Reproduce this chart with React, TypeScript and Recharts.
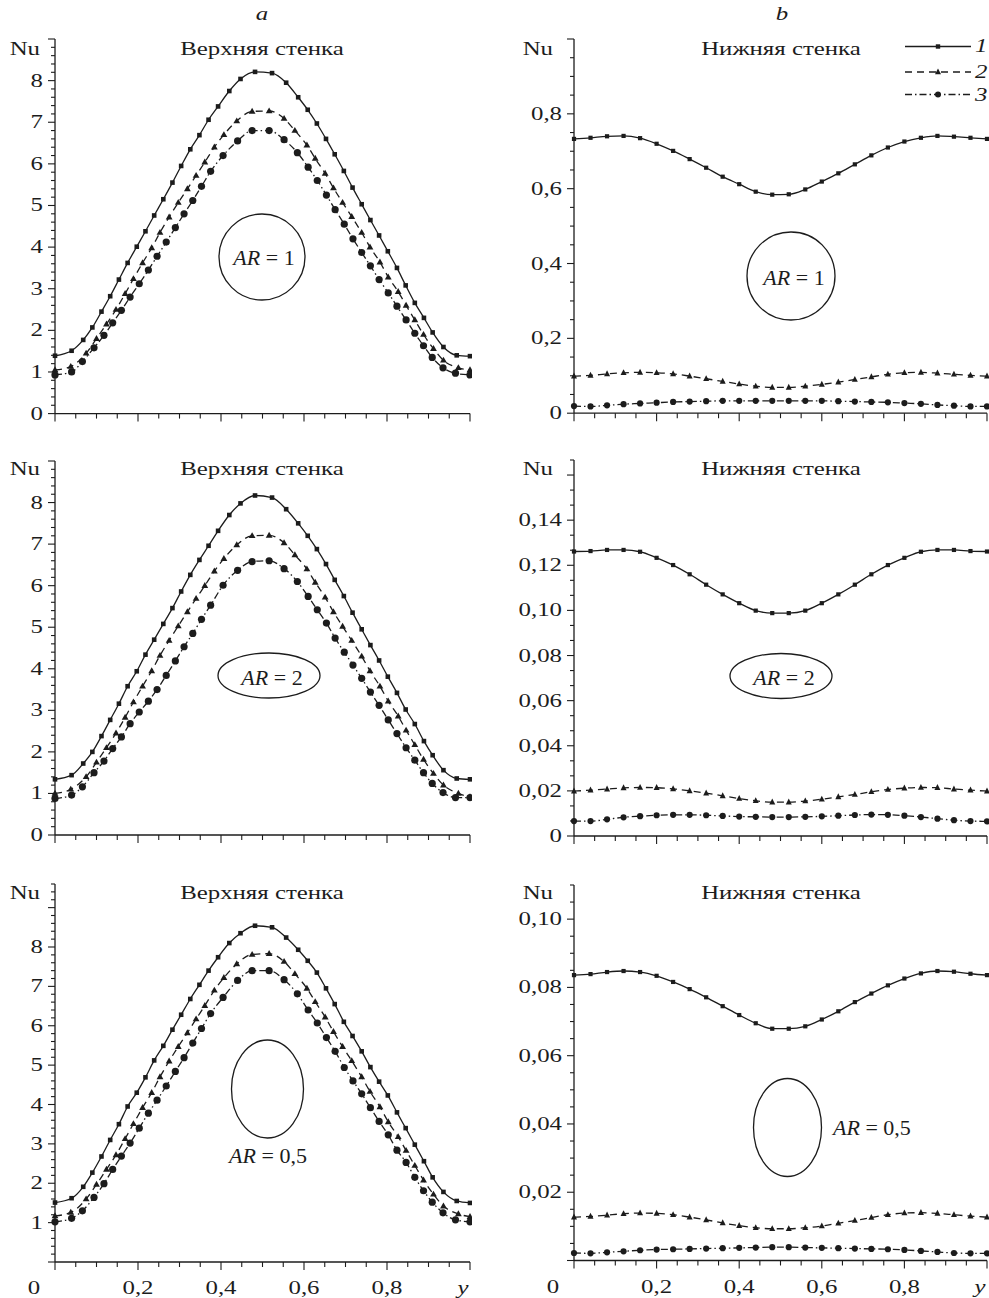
import React from "react";
import { LineChart, Line, XAxis, YAxis } from "recharts";

const FONT = '"Liberation Serif", "Times New Roman", serif';
const INK = "#1c1c1c";
const SX = 1.38; // the figure's lettering is wide

// marker positions, column a (upper wall)
const xTop1 = [0, 0.04, 0.068, 0.09, 0.112, 0.133, 0.154, 0.175, 0.197, 0.218, 0.239, 0.261, 0.283, 0.304, 0.326, 0.348, 0.37, 0.393, 0.42, 0.447, 0.482, 0.523, 0.557, 0.586, 0.609, 0.631, 0.653, 0.674, 0.696, 0.717, 0.739, 0.76, 0.781, 0.802, 0.824, 0.845, 0.867, 0.889, 0.91, 0.936, 0.968, 1.0];
const xTop2 = [0, 0.038, 0.075, 0.1, 0.124, 0.147, 0.169, 0.189, 0.211, 0.233, 0.253, 0.275, 0.297, 0.319, 0.34, 0.361, 0.384, 0.407, 0.438, 0.475, 0.516, 0.552, 0.578, 0.607, 0.627, 0.651, 0.671, 0.693, 0.715, 0.739, 0.759, 0.783, 0.803, 0.827, 0.846, 0.867, 0.888, 0.912, 0.936, 0.972, 1.0];
const xTop3 = [0, 0.04, 0.066, 0.094, 0.118, 0.139, 0.16, 0.181, 0.203, 0.225, 0.246, 0.268, 0.29, 0.311, 0.332, 0.353, 0.375, 0.405, 0.44, 0.475, 0.516, 0.552, 0.584, 0.61, 0.632, 0.654, 0.675, 0.697, 0.718, 0.739, 0.76, 0.781, 0.803, 0.824, 0.846, 0.867, 0.888, 0.909, 0.935, 0.965, 1.0];
// column b (lower wall)
const xBot = [0, 0.04, 0.08, 0.12, 0.16, 0.2, 0.24, 0.28, 0.32, 0.36, 0.4, 0.44, 0.48, 0.52, 0.56, 0.6, 0.64, 0.68, 0.72, 0.76, 0.8, 0.84, 0.88, 0.92, 0.96, 1.0];

// Nu, upper wall
const upAR1s1 = [1.39, 1.51, 1.77, 2.07, 2.45, 2.82, 3.22, 3.62, 4.01, 4.38, 4.76, 5.15, 5.55, 5.95, 6.35, 6.69, 7.06, 7.38, 7.75, 8.04, 8.21, 8.18, 7.95, 7.6, 7.3, 6.97, 6.6, 6.23, 5.83, 5.43, 5.03, 4.65, 4.28, 3.9, 3.5, 3.08, 2.66, 2.3, 1.95, 1.6, 1.4, 1.38];
const upAR1s2 = [1.05, 1.13, 1.45, 1.8, 2.15, 2.5, 2.88, 3.24, 3.62, 3.98, 4.35, 4.72, 5.07, 5.4, 5.72, 6.04, 6.4, 6.7, 7.03, 7.26, 7.27, 7.09, 6.8, 6.45, 6.13, 5.77, 5.42, 5.07, 4.73, 4.35, 4.0, 3.64, 3.28, 2.93, 2.6, 2.25, 1.9, 1.56, 1.28, 1.1, 1.05];
const upAR1s3 = [0.93, 1.0, 1.25, 1.58, 1.88, 2.18, 2.48, 2.8, 3.12, 3.45, 3.78, 4.12, 4.47, 4.8, 5.12, 5.46, 5.82, 6.2, 6.55, 6.8, 6.8, 6.58, 6.27, 5.92, 5.6, 5.25, 4.9, 4.55, 4.2, 3.87, 3.55, 3.22, 2.9, 2.58, 2.25, 1.93, 1.63, 1.35, 1.1, 0.97, 0.93];

const upAR2s1 = [1.34, 1.44, 1.72, 2.0, 2.38, 2.77, 3.16, 3.58, 3.94, 4.34, 4.7, 5.08, 5.46, 5.86, 6.26, 6.62, 6.96, 7.32, 7.7, 7.98, 8.17, 8.12, 7.84, 7.5, 7.2, 6.88, 6.52, 6.14, 5.75, 5.35, 4.95, 4.57, 4.2, 3.81, 3.42, 3.02, 2.67, 2.26, 1.92, 1.56, 1.36, 1.34];
const upAR2s2 = [1.0, 1.1, 1.4, 1.75, 2.1, 2.45, 2.83, 3.2, 3.58, 3.95, 4.32, 4.68, 5.03, 5.37, 5.69, 6.0, 6.35, 6.65, 6.98, 7.2, 7.21, 7.03, 6.74, 6.4, 6.08, 5.72, 5.37, 5.02, 4.68, 4.3, 3.95, 3.58, 3.22, 2.86, 2.52, 2.17, 1.82, 1.48, 1.2, 1.0, 0.92];
const upAR2s3 = [0.88, 0.96, 1.16, 1.5, 1.78, 2.08, 2.36, 2.68, 2.96, 3.22, 3.5, 3.84, 4.19, 4.53, 4.85, 5.19, 5.53, 6.01, 6.37, 6.58, 6.6, 6.41, 6.1, 5.74, 5.42, 5.1, 4.74, 4.4, 4.09, 3.77, 3.44, 3.12, 2.77, 2.44, 2.1, 1.8, 1.5, 1.24, 1.02, 0.9, 0.9];

const upAR05s1 = [1.51, 1.62, 1.91, 2.27, 2.68, 3.1, 3.5, 3.95, 4.3, 4.69, 5.12, 5.49, 5.9, 6.28, 6.68, 7.04, 7.4, 7.74, 8.1, 8.35, 8.54, 8.5, 8.24, 7.93, 7.65, 7.35, 6.95, 6.55, 6.1, 5.74, 5.35, 4.95, 4.58, 4.23, 3.8, 3.4, 2.98, 2.56, 2.15, 1.78, 1.55, 1.5];
const upAR05s2 = [1.17, 1.26, 1.6, 1.97, 2.35, 2.72, 3.13, 3.51, 3.92, 4.3, 4.7, 5.1, 5.47, 5.82, 6.17, 6.51, 6.9, 7.22, 7.57, 7.81, 7.83, 7.63, 7.32, 6.95, 6.61, 6.22, 5.85, 5.47, 5.11, 4.7, 4.33, 3.94, 3.56, 3.18, 2.83, 2.45, 2.08, 1.72, 1.42, 1.22, 1.15];
const upAR05s3 = [1.02, 1.11, 1.3, 1.64, 1.99, 2.35, 2.69, 3.02, 3.4, 3.78, 4.11, 4.47, 4.84, 5.19, 5.56, 5.93, 6.31, 6.72, 7.15, 7.4, 7.4, 7.17, 6.81, 6.4, 6.07, 5.7, 5.35, 4.94, 4.6, 4.27, 3.92, 3.57, 3.23, 2.84, 2.53, 2.15, 1.81, 1.52, 1.25, 1.07, 1.02];

// Nu, lower wall
const lowAR1s1 = [0.733, 0.736, 0.74, 0.741, 0.735, 0.72, 0.701, 0.679, 0.656, 0.632, 0.612, 0.592, 0.584, 0.585, 0.598, 0.619, 0.641, 0.665, 0.689, 0.71, 0.726, 0.736, 0.741, 0.739, 0.736, 0.733];
const lowAR1s2 = [0.099, 0.101, 0.105, 0.108, 0.109, 0.108, 0.105, 0.099, 0.092, 0.085, 0.078, 0.072, 0.069, 0.069, 0.072, 0.077, 0.083, 0.09, 0.097, 0.104, 0.108, 0.109, 0.107, 0.104, 0.101, 0.099];
const lowAR1s3 = [0.019, 0.018, 0.021, 0.024, 0.026, 0.028, 0.03, 0.031, 0.032, 0.033, 0.033, 0.033, 0.033, 0.033, 0.033, 0.033, 0.032, 0.031, 0.03, 0.029, 0.027, 0.025, 0.022, 0.02, 0.018, 0.018];

const lowAR2s1 = [0.1261, 0.1263, 0.1268, 0.1268, 0.126, 0.1233, 0.1201, 0.116, 0.1114, 0.1071, 0.1032, 0.0999, 0.0988, 0.0988, 0.0999, 0.1032, 0.1071, 0.1114, 0.116, 0.1201, 0.1233, 0.126, 0.1268, 0.1268, 0.1263, 0.1261];
const lowAR2s2 = [0.0199, 0.0203, 0.0208, 0.0213, 0.0215, 0.0214, 0.0209, 0.02, 0.019, 0.0178, 0.0166, 0.0156, 0.015, 0.015, 0.0155, 0.0163, 0.0173, 0.0184, 0.0196, 0.0206, 0.0212, 0.0215, 0.0214, 0.0208, 0.0203, 0.0199];
const lowAR2s3 = [0.0066, 0.0066, 0.0074, 0.0083, 0.0088, 0.0092, 0.0094, 0.0094, 0.0092, 0.0089, 0.0086, 0.0085, 0.0084, 0.0084, 0.0085, 0.0087, 0.009, 0.0093, 0.0095, 0.0094, 0.009, 0.0084, 0.0077, 0.007, 0.0066, 0.0065];

const lowAR05s1 = [0.0836, 0.0839, 0.0845, 0.0848, 0.0845, 0.0834, 0.0816, 0.0795, 0.0771, 0.0745, 0.0719, 0.0695, 0.0679, 0.0679, 0.0686, 0.0706, 0.073, 0.0757, 0.0782, 0.0806, 0.0826, 0.0841, 0.0848, 0.0846, 0.084, 0.0836];
const lowAR05s2 = [0.0127, 0.0129, 0.0133, 0.0137, 0.0139, 0.0138, 0.0134, 0.0127, 0.0119, 0.011, 0.0102, 0.0096, 0.0093, 0.0093, 0.0096, 0.0101, 0.0109, 0.0117, 0.0126, 0.0134, 0.0139, 0.014, 0.0138, 0.0134, 0.013, 0.0127];
const lowAR05s3 = [0.0022, 0.0021, 0.0024, 0.0027, 0.003, 0.0032, 0.0033, 0.0034, 0.0035, 0.0036, 0.0037, 0.0038, 0.0039, 0.0039, 0.0038, 0.0037, 0.0036, 0.0035, 0.0034, 0.0033, 0.0031, 0.0028, 0.0025, 0.0022, 0.0021, 0.0021];

const xTickLabels = ["0", "0,2", "0,4", "0,6", "0,8", "y"];

const pts = (xs: number[], ys: number[]) => xs.map((x, i) => ({ x, y: ys[i] }));

const steps = (step: number, max: number) => {
  const n = Math.round(max / step);
  const out: number[] = [];
  for (let i = 0; i <= n; i++) out.push(+(i * step).toFixed(7));
  return out;
};

const xTicks = steps(0.05, 1);
const DASH = [undefined, "7 5", "7 3 1.5 3"];
const YW = 55;
const MT = 12;
const XH = 45;

function marker(kind: number, big: boolean) {
  return (p: any) => {
    const { cx, cy, index } = p;
    if (cx == null || cy == null) return <g key={index} />;
    if (kind === 0) {
      const s = big ? 4.6 : 4.2;
      return <rect key={index} x={cx - s / 2} y={cy - s / 2} width={s} height={s} fill={INK} />;
    }
    if (kind === 1) {
      const w = big ? 3.4 : 3;
      return <polygon key={index} points={`${cx},${cy - 3.6} ${cx - w},${cy + 2.3} ${cx + w},${cy + 2.3}`} fill={INK} />;
    }
    return <circle key={index} cx={cx} cy={cy} r={big ? 3.6 : 3.1} fill={INK} />;
  };
}

interface PanelProps {
  left: number;
  top: number;
  w: number;
  h: number;
  yMax: number;
  yStep: number;
  yEvery: number;
  yDec: number;
  yLabelMax: number;
  yZero: boolean;
  xLabels: boolean;
  big: boolean;
  series: { xs: number[]; ys: number[] }[];
}

function Panel(p: PanelProps) {
  const yTicks = steps(p.yStep, p.yMax);
  const mr = 2;
  const width = YW + p.w + mr;
  const height = MT + p.h + XH;

  const yTick = (t: any) => {
    const v = t.payload.value;
    const i = Math.round(v / p.yStep);
    const major = i % p.yEvery === 0;
    const show = major && v <= p.yLabelMax + 1e-9 && (v !== 0 || p.yZero);
    const label = v === 0 ? "0" : v.toFixed(p.yDec).replace(".", ",");
    return (
      <g>
        <line x1={t.x - (major ? 7 : 4)} x2={t.x} y1={t.y} y2={t.y} stroke={INK} strokeWidth={1.1} />
        {show && (
          <text transform={`translate(${t.x - 12},${t.y + 6}) scale(${SX},1)`} textAnchor="end" fontFamily={FONT} fontSize={18} fill={INK}>
            {label}
          </text>
        )}
      </g>
    );
  };

  const xTick = (t: any) => {
    const v = t.payload.value;
    const i = Math.round(v / 0.05);
    const major = i % 4 === 0;
    let label: React.ReactNode = null;
    if (p.xLabels && major) {
      const k = i / 4;
      const dx = k === 0 ? -21 : k === 5 ? -7 : 0;
      label = (
        <text transform={`translate(${t.x + dx},${t.y + 32}) scale(${SX},1)`} textAnchor="middle" fontFamily={FONT} fontSize={18} fontStyle={k === 5 ? "italic" : "normal"} fill={INK}>
          {xTickLabels[k]}
        </text>
      );
    }
    return (
      <g>
        <line x1={t.x} x2={t.x} y1={t.y} y2={t.y + (major ? 8 : 5)} stroke={INK} strokeWidth={1.1} />
        {label}
      </g>
    );
  };

  return (
    <div style={{ position: "absolute", left: p.left - YW, top: p.top - MT }}>
      <LineChart width={width} height={height} margin={{ top: MT, right: mr, bottom: 0, left: 0 }}>
        <XAxis
          dataKey="x"
          type="number"
          domain={[0, 1]}
          ticks={xTicks}
          interval={0}
          height={XH}
          tickSize={0}
          tickMargin={0}
          tick={xTick}
          axisLine={{ stroke: INK, strokeWidth: 1.3 }}
          tickLine={false}
        />
        <YAxis
          type="number"
          domain={[0, p.yMax]}
          ticks={yTicks}
          interval={0}
          width={YW}
          tickSize={0}
          tickMargin={0}
          tick={yTick}
          axisLine={{ stroke: INK, strokeWidth: 1.3 }}
          tickLine={false}
        />
        {p.series.map((s, k) => (
          <Line
            key={k}
            data={pts(s.xs, s.ys)}
            dataKey="y"
            type="monotone"
            stroke={INK}
            strokeWidth={1.3}
            strokeDasharray={DASH[k]}
            dot={marker(k, p.big)}
            activeDot={false}
            isAnimationActive={false}
          />
        ))}
      </LineChart>
    </div>
  );
}

function T({ x, y, children, anchor = "middle", italic = false }: any) {
  return (
    <text transform={`translate(${x},${y}) scale(${SX},1)`} textAnchor={anchor} fontFamily={FONT} fontSize={18} fontStyle={italic ? "italic" : "normal"} fill={INK}>
      {children}
    </text>
  );
}

function AR({ x, y, v, anchor = "middle" }: any) {
  return (
    <text x={x} y={y} textAnchor={anchor} fontFamily={FONT} fontSize={22} fill={INK}>
      <tspan fontStyle="italic">AR</tspan>
      {` = ${v}`}
    </text>
  );
}

function Overlay() {
  const rows = [55, 475, 899];
  return (
    <svg width={989} height={1298} style={{ position: "absolute", left: 0, top: 0, pointerEvents: "none" }}>
      <T x={262} y={20} italic>a</T>
      <T x={782} y={20} italic>b</T>
      {rows.map((y) => (
        <g key={y}>
          <T x={262} y={y}>Верхняя стенка</T>
          <T x={781} y={y}>Нижняя стенка</T>
          <T x={40} y={y} anchor="end">Nu</T>
          <T x={553} y={y} anchor="end">Nu</T>
        </g>
      ))}

      {/* legend */}
      <g stroke={INK} strokeWidth={1.3}>
        <line x1={905} x2={971} y1={46.5} y2={46.5} />
        <line x1={905} x2={971} y1={72} y2={72} strokeDasharray="7 5" />
        <line x1={905} x2={971} y1={94.5} y2={94.5} strokeDasharray="7 3 1.5 3" />
      </g>
      <rect x={935.8} y={44.3} width={4.4} height={4.4} fill={INK} />
      <polygon points="938,68.4 935,74.3 941,74.3" fill={INK} />
      <circle cx={938} cy={94.5} r={3} fill={INK} />
      <T x={975} y={52} anchor="start" italic>1</T>
      <T x={975} y={78} anchor="start" italic>2</T>
      <T x={975} y={101} anchor="start" italic>3</T>

      {/* cavity shapes */}
      <g fill="none" stroke={INK} strokeWidth={1.3}>
        <circle cx={262} cy={257} r={43} />
        <circle cx={791} cy={276} r={44} />
        <ellipse cx={269} cy={675.5} rx={51} ry={22.5} />
        <ellipse cx={781} cy={676} rx={51} ry={22.5} />
        <ellipse cx={267.5} cy={1089} rx={36} ry={49} />
        <ellipse cx={787.5} cy={1127.5} rx={34} ry={49} />
      </g>
      <AR x={264} y={265} v="1" />
      <AR x={794} y={285} v="1" />
      <AR x={272} y={685} v="2" />
      <AR x={784} y={685} v="2" />
      <AR x={268} y={1163} v="0,5" />
      <AR x={833} y={1135} v="0,5" anchor="start" />
    </svg>
  );
}

export default function App() {
  return (
    <div style={{ position: "absolute", left: 0, top: 0, width: 989, height: 1298, background: "#fff", overflow: "hidden" }}>
      <Panel left={55} top={39} w={415} h={374.6} yMax={9} yStep={0.2} yEvery={5} yDec={0} yLabelMax={8} yZero xLabels={false} big
        series={[{ xs: xTop1, ys: upAR1s1 }, { xs: xTop2, ys: upAR1s2 }, { xs: xTop3, ys: upAR1s3 }]} />
      <Panel left={574} top={39} w={413} h={374.2} yMax={1} yStep={0.05} yEvery={4} yDec={1} yLabelMax={0.8} yZero xLabels={false} big={false}
        series={[{ xs: xBot, ys: lowAR1s1 }, { xs: xBot, ys: lowAR1s2 }, { xs: xBot, ys: lowAR1s3 }]} />
      <Panel left={55} top={461} w={415} h={374} yMax={9} yStep={0.2} yEvery={5} yDec={0} yLabelMax={8} yZero xLabels={false} big
        series={[{ xs: xTop1, ys: upAR2s1 }, { xs: xTop2, ys: upAR2s2 }, { xs: xTop3, ys: upAR2s3 }]} />
      <Panel left={574} top={460} w={413} h={376} yMax={1 / 6} yStep={0.02 / 3} yEvery={3} yDec={2} yLabelMax={0.14} yZero xLabels={false} big={false}
        series={[{ xs: xBot, ys: lowAR2s1 }, { xs: xBot, ys: lowAR2s2 }, { xs: xBot, ys: lowAR2s3 }]} />
      <Panel left={55} top={883.5} w={415} h={378} yMax={9.6} yStep={0.2} yEvery={5} yDec={0} yLabelMax={8} yZero={false} xLabels big
        series={[{ xs: xTop1, ys: upAR05s1 }, { xs: xTop2, ys: upAR05s2 }, { xs: xTop3, ys: upAR05s3 }]} />
      <Panel left={574} top={885} w={413} h={375.5} yMax={0.11} yStep={0.005} yEvery={4} yDec={2} yLabelMax={0.1} yZero={false} xLabels big={false}
        series={[{ xs: xBot, ys: lowAR05s1 }, { xs: xBot, ys: lowAR05s2 }, { xs: xBot, ys: lowAR05s3 }]} />
      <Overlay />
    </div>
  );
}
